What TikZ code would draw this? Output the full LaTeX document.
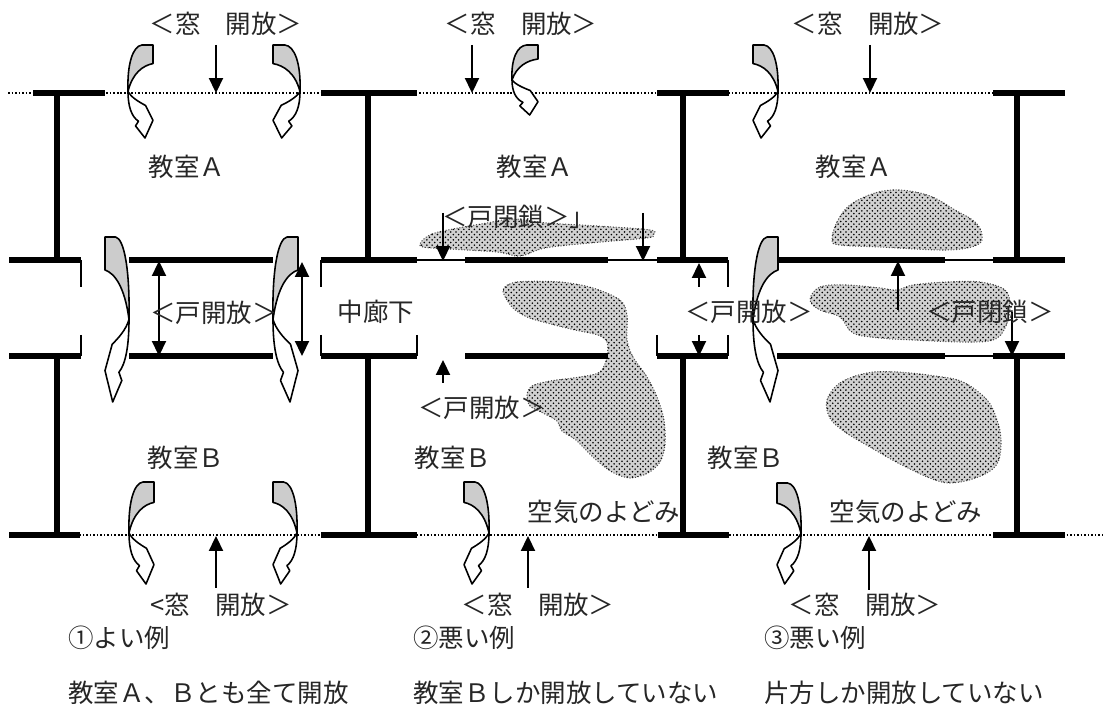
\documentclass[tikz,border=0pt]{standalone}
\usepackage{fontspec}
\setmainfont{Noto Sans CJK JP}
\usetikzlibrary{arrows.meta, patterns}

\begin{document}
\begin{tikzpicture}[x=0.02cm, y=-0.02cm,
        wall/.style={line width=3.4pt},
        doorline/.style={line width=0.6pt},
        jamb/.style={line width=1.1pt},
        windowline/.style={line width=0.9pt, dash pattern=on 0.9pt off 1.1pt},
        airflow/.style={line width=1pt, -{Triangle[width=8pt, length=8.5pt]}},
        bothflow/.style={line width=1pt, {Triangle[width=8pt, length=8.5pt]}-{Triangle[width=8pt, length=8.5pt]}},
        stagnant/.style={fill=black!18, postaction={pattern=crosshatch dots, pattern color=black},
            draw=black!70, densely dotted, line width=0.6pt},
        lbl/.style={font=\fontsize{14.5}{17}\selectfont, inner sep=0pt, text=black!85},
        arrowband/.style={draw, line width=0.9pt, line join=round},
        curvarrow/.pic={
            \path[arrowband, fill=black!20] (0.56,0) -- (1,0) -- (1,0.2)
                .. controls (0.6,0.22) and (0.18,0.3) .. (0,0.5)
                .. controls (-0.04,0.2) and (0.2,0.01) .. (0.56,0) -- cycle;
            \path[arrowband, fill=white] (0,0.5) .. controls (0,0.66) and (0.14,0.77) .. (0.42,0.82)
                -- (0.3,0.87) -- (0.68,1) -- (1,0.81) -- (0.7,0.65)
                .. controls (0.42,0.61) and (0.12,0.56) .. (0,0.5) -- cycle;
        }
    ]
        \useasboundingbox (0,0) rectangle (1107,709);

        \draw[windowline] (8,93) -- (993,93);
        \draw[windowline] (9,535) -- (1105,535);

        \path[stagnant] plot[smooth cycle, tension=0.6] coordinates {(421,242) (432,234) (453,229) (487,223) (513,219) (547,223) (597,226) (650,230) (653,235) (646,238) (590,243) (545,248) (520,256) (497,252) (450,249) (423,247)};
        \path[stagnant] plot[smooth cycle, tension=0.5] coordinates {(503,290) (517,282) (560,282) (593,288) (620,300) (627,315) (627,340) (633,357) (647,377) (657,397) (664,420) (665,445) (660,462) (648,473) (630,478) (612,472) (594,458) (576,440) (562,431) (557,421) (543,413) (530,406) (527,395) (532,386) (550,381) (580,377) (600,372) (607,357) (607,342) (598,335) (575,330) (547,323) (527,317) (512,307)};
        \path[stagnant] plot[smooth cycle, tension=0.6] coordinates {(832,240) (837,222) (850,205) (875,193) (900,190) (930,196) (955,210) (975,222) (982,235) (977,245) (947,250) (880,247) (840,245)};
        \path[stagnant] plot[smooth cycle, tension=0.6] coordinates {(810,300) (820,287) (847,285) (880,288) (897,290) (913,285) (947,282) (980,282) (1005,290) (1010,307) (1005,328) (993,340) (963,342) (913,340) (880,338) (853,333) (840,317) (820,310)};
        \path[stagnant] plot[smooth cycle, tension=0.6] coordinates {(827,400) (840,383) (867,373) (897,372) (935,376) (963,382) (987,400) (997,420) (1001,440) (998,462) (985,474) (960,482) (938,481) (902,465) (870,447) (845,432) (830,418)};

        \draw[wall] (33,93) -- (105,93) (57,93) -- (57,260)
                    (321,93) -- (417,93) (368,93) -- (368,260)
                    (657,93) -- (729,93) (683,93) -- (683,260)
                    (993,93) -- (1065,93) (1017,93) -- (1017,260);
        \draw[wall] (9,260) -- (81,260) (129,260) -- (273,260) (321,260) -- (417,260)
                    (465,260) -- (608,260) (657,260) -- (728,260) (777,260) -- (945,260)
                    (993,260) -- (1065,260);
        \draw[wall] (9,356) -- (81,356) (129,356) -- (273,356) (321,356) -- (417,356)
                    (465,356) -- (608,356) (657,356) -- (728,356) (777,356) -- (945,356)
                    (993,356) -- (1065,356);
        \draw[wall] (57,356) -- (57,535) (9,535) -- (80,535)
                    (368,356) -- (368,535) (321,535) -- (417,535)
                    (683,356) -- (683,535) (658,535) -- (729,535)
                    (1017,356) -- (1017,535) (993,535) -- (1065,535);
        \draw[doorline] (417,260) -- (465,260) (608,260) -- (657,260) (945,260) -- (993,260) (945,356) -- (993,356);
        \draw[jamb] (81,260) -- (81,287) (81,335) -- (81,356) (321,260) -- (321,287) (321,335) -- (321,356)
                    (417,335) -- (417,356) (657,335) -- (657,356) (728,260) -- (728,287) (728,335) -- (728,356);

        \coordinate (wt1) at (216,45);  \coordinate (wt1e) at (216,93);
        \coordinate (wt2) at (472,45);  \coordinate (wt2e) at (472,93);
        \coordinate (wt3) at (870,45);  \coordinate (wt3e) at (870,93);
        \coordinate (wb1) at (216,588); \coordinate (wb1e) at (216,536);
        \coordinate (wb2) at (528,588); \coordinate (wb2e) at (528,536);
        \coordinate (wb3) at (869,590); \coordinate (wb3e) at (869,536);
        \coordinate (da1) at (159,261); \coordinate (da1e) at (159,356);
        \coordinate (da2) at (302,262); \coordinate (da2e) at (302,356);
        \coordinate (dc1) at (443,213); \coordinate (dc1e) at (443,261);
        \coordinate (dc2) at (643,213); \coordinate (dc2e) at (643,261);
        \coordinate (do1) at (443,383); \coordinate (do1e) at (443,360);
        \coordinate (do2) at (699,287); \coordinate (do2e) at (699,263);
        \coordinate (do3) at (699,335); \coordinate (do3e) at (699,356);
        \coordinate (dc3) at (898,310); \coordinate (dc3e) at (898,261);
        \coordinate (dc4) at (1012,312); \coordinate (dc4e) at (1012,356);

        \draw[airflow] (wt1) -- (wt1e);
        \draw[airflow] (wt2) -- (wt2e);
        \draw[airflow] (wt3) -- (wt3e);
        \draw[airflow] (wb1) -- (wb1e);
        \draw[airflow] (wb2) -- (wb2e);
        \draw[airflow] (wb3) -- (wb3e);
        \draw[bothflow] (da1) -- (da1e);
        \draw[bothflow] (da2) -- (da2e);
        \draw[airflow] (dc1) -- (dc1e);
        \draw[airflow] (dc2) -- (dc2e);
        \draw[airflow] (do1) -- (do1e);
        \draw[airflow] (do2) -- (do2e);
        \draw[airflow] (do3) -- (do3e);
        \draw[airflow] (dc3) -- (dc3e);
        \draw[airflow] (dc4) -- (dc4e);

        \pic[xscale=25, yscale=93] (ca1) at (128,45) {curvarrow};
        \pic[xscale=-27, yscale=93] (ca2) at (300,45) {curvarrow};
        \pic[xscale=-24, yscale=165] (ca3) at (129,237) {curvarrow};
        \pic[xscale=25, yscale=165] (ca4) at (273,237) {curvarrow};
        \pic[xscale=25, yscale=102] (ca5) at (129,482) {curvarrow};
        \pic[xscale=-24, yscale=102] (ca6) at (297,482) {curvarrow};
        \pic[xscale=26, yscale=70] (ca7) at (512,45) {curvarrow};
        \pic[xscale=-25, yscale=102] (ca8) at (489,482) {curvarrow};
        \pic[xscale=-25, yscale=93] (ca9) at (778,45) {curvarrow};
        \pic[xscale=25, yscale=165] (ca10) at (753,237) {curvarrow};
        \pic[xscale=-24, yscale=101] (ca11) at (801,483) {curvarrow};

        \node[lbl] (wintop1) at (226,24) {＜窓　開放＞};
        \node[lbl] (wintop2) at (521,24) {＜窓　開放＞};
        \node[lbl] (wintop3) at (868,24) {＜窓　開放＞};
        \node[lbl] (roomA1) at (187,167) {教室Ａ};
        \node[lbl] (roomA2) at (535,167) {教室Ａ};
        \node[lbl] (roomA3) at (854,167) {教室Ａ};
        \node[lbl] (roomB1) at (186,458) {教室Ｂ};
        \node[lbl] (roomB2) at (453,458) {教室Ｂ};
        \node[lbl] (roomB3) at (746,458) {教室Ｂ};
        \node[lbl] (open1) at (214,313) {＜戸開放＞};
        \node[lbl] (hall) at (376,312) {中廊下};
        \node[lbl, anchor=west] (shut2) at (442,217) {＜戸閉鎖＞」};
        \node[lbl] (open2) at (482,408) {＜戸開放＞};
        \node[lbl] (open3) at (749,312) {＜戸開放＞};
        \node[lbl] (shut3) at (990,312) {＜戸閉鎖＞};
        \node[lbl] (still2) at (604,512) {空気のよどみ};
        \node[lbl] (still3) at (906,512) {空気のよどみ};
        \node[lbl] (winbot1) at (221,605) {<窓　開放＞};
        \node[lbl] (winbot2) at (538,605) {＜窓　開放＞};
        \node[lbl] (winbot3) at (865,605) {＜窓　開放＞};
        \node[lbl, anchor=west] (case1) at (68,638) {①よい例};
        \node[lbl, anchor=west] (case2) at (413,638) {②悪い例};
        \node[lbl, anchor=west] (case3) at (764,638) {③悪い例};
        \node[lbl, anchor=west] (note1) at (68,693) {教室Ａ、Ｂとも全て開放};
        \node[lbl, anchor=west] (note2) at (413,693) {教室Ｂしか開放していない};
        \node[lbl, anchor=west] (note3) at (764,693) {片方しか開放していない};
    \end{tikzpicture}
\end{document}
